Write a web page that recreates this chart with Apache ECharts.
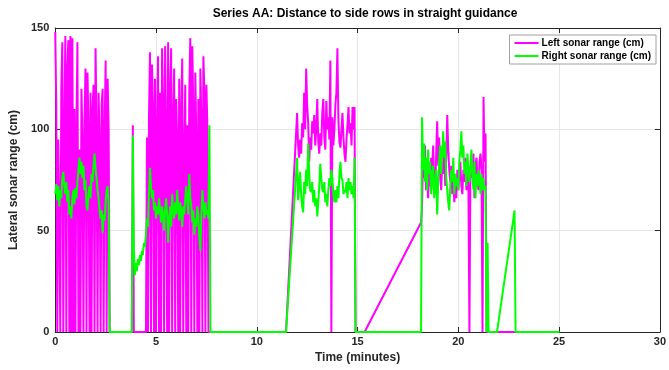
<!DOCTYPE html>
<html><head><meta charset="utf-8">
<script src="https://cdn.jsdelivr.net/npm/echarts@6/dist/echarts.min.js"></script>
<style>html,body{margin:0;padding:0;background:#fff}#c{width:669px;height:370px}</style>
</head><body><div id="c"></div>
<script>
// Time ticks (minutes) and range ticks (cm)
const xTicks = [0, 5, 10, 15, 20, 25, 30];
const yTicks = [0, 50, 100, 150];
const seriesNames = ['Left sonar range (cm)', 'Right sonar range (cm)'];

// Sampling step of the readings (minutes)
const step = 0.05;

// Segment A: t = 0.00 .. 2.65
const leftA = [148,112,0,95,60,0,120,143,0,100,146,0,130,144,0,146,0,145,0,110,0,100,143,0,90,0,120,95,0,105,130,0,128,100,0,118,0,110,122,0,140,100,0,118,95,0,112,120,0,100,134,0,125,100];
const rightA = [68,73,65,72,62,70,66,76,79,72,68,74,64,70,58,62,56,66,70,63,71,66,74,80,86,78,84,76,82,70,75,62,60,68,72,66,78,74,82,88,80,76,70,66,60,56,60,49,58,55,64,70,72,62];

// Segment B: t = 3.85 .. 7.65
const leftB = [102,0,0,0,0,0,0,0,0,0,0,0,0,0,96,0,105,138,0,132,110,0,125,0,100,136,0,118,0,140,112,0,141,98,0,143,0,120,140,0,105,130,0,115,95,0,125,0,108,135,0,88,122,0,102,0,118,145,0,141,110,0,128,95,0,115,0,130,105,0,136,118,0,122,100,0,0];
const rightB = [97,40,28,34,30,36,33,38,35,40,38,44,42,48,56,52,68,81,72,66,70,60,64,56,62,58,66,60,54,62,58,50,60,66,58,44,56,62,52,68,60,56,64,58,70,62,55,64,60,52,62,58,66,72,64,58,78,66,62,54,60,48,56,52,62,58,46,40,58,70,62,56,64,58,60,56,102];

// Segment C: t = 12.00 .. 14.85
const leftC = [108,92,86,95,88,103,96,118,100,130,112,103,84,96,90,104,98,107,92,100,115,94,88,98,92,108,115,96,90,114,100,106,95,134,0,106,92,100,112,118,140,104,94,91,100,108,96,88,84,95,102,111,98,103,92,111,100,111];
const rightC = [86,65,72,79,68,62,59,74,68,80,72,93,78,70,69,74,64,70,62,66,57,64,72,83,76,70,69,74,64,68,62,70,76,72,80,76,68,64,70,64,72,66,78,84,76,75,68,70,69,74,66,76,70,74,68,72,66,86];

// Segment D: t = 18.20 .. 21.40
const leftD = [62,88,76,92,70,84,66,78,72,86,80,92,74,68,88,104,82,96,76,70,84,78,90,72,86,107,90,80,74,82,68,76,64,72,66,80,70,76,84,72,68,80,74,86,70,78,72,0,80,84,76,88,66,82,86,76,70,84,88,80,0,116,84,98,0];
const rightD = [106,80,93,74,86,70,90,78,84,68,76,82,66,72,80,58,74,84,92,78,88,99,86,94,76,70,64,60,72,80,74,86,68,78,72,76,70,84,90,99,86,92,78,84,72,88,80,74,82,90,76,70,84,66,78,72,80,74,68,78,70,76,70,72,0];

// Points between segments [time, cm]
const leftGap1 = [[2.70,0],[3.80,0]];
const leftGap2 = [[7.70,0],[11.45,0]];
const leftGap3 = [[14.90,0],[15.35,0],[18.15,54]];
const leftTail = [[21.45,0],[22.80,0]];
const rightGap1 = [[2.70,0],[3.80,0]];
const rightGap2 = [[7.70,0],[11.45,0]];
const rightGap3 = [[14.90,0],[18.15,0]];
const rightTail = [[21.45,44],[21.50,0],[21.92,0],[22.79,60],[22.84,0],[25.02,0]];

function pts(t0, vals) {
  return vals.map((v, i) => [+(t0 + i * step).toFixed(3), v]);
}
const leftData = [].concat(pts(0, leftA), leftGap1, pts(3.85, leftB), leftGap2, pts(12.0, leftC), leftGap3, pts(18.2, leftD), leftTail);
const rightData = [].concat(pts(0, rightA), rightGap1, pts(3.85, rightB), rightGap2, pts(12.0, rightC), rightGap3, pts(18.2, rightD), rightTail);

const chart = echarts.init(document.getElementById('c'), null, {renderer: 'canvas'});
const FONT = 'Liberation Sans';
const axisCol = '#262626';
chart.setOption({
  animation: false,
  backgroundColor: '#fff',
  title: {
    text: 'Series AA: Distance to side rows in straight guidance',
    left: 360, top: 3, textAlign: 'center',
    textStyle: {fontFamily: FONT, fontSize: 12, fontWeight: 'bold', color: '#000'}
  },
  legend: {
    data: seriesNames,
    orient: 'vertical',
    right: 13, top: 35,
    padding: [3, 5, 3, 5],
    itemGap: 3,
    itemWidth: 24, itemHeight: 2,
    icon: 'rect',
    borderColor: '#a0a0a0', borderWidth: 1,
    backgroundColor: '#fff',
    textStyle: {fontFamily: FONT, fontSize: 10, fontWeight: 'bold', color: '#000', lineHeight: 10, padding: [0,0,0,-2]}
  },
  grid: {left: 55, right: 5, top: 28, bottom: 38, containLabel: false},
  xAxis: [{
    type: 'value', min: xTicks[0], max: xTicks[xTicks.length-1], interval: 5,
    name: 'Time (minutes)', nameLocation: 'middle', nameGap: 19,
    nameTextStyle: {fontFamily: FONT, fontSize: 12, fontWeight: 'bold', color: axisCol},
    axisLine: {show: true, lineStyle: {color: axisCol, width: 1}},
    axisTick: {show: true, inside: true, length: 5, lineStyle: {color: axisCol}},
    axisLabel: {fontFamily: FONT, fontSize: 11, fontWeight: 'bold', color: axisCol, margin: 4},
    splitLine: {show: true, lineStyle: {color: '#e6e6e6', width: 1}}
  }, {
    type: 'value', position: 'top', min: 0, max: 30, interval: 5,
    axisLine: {show: true, onZero: false, lineStyle: {color: axisCol, width: 1}},
    axisTick: {show: true, inside: true, length: 5, lineStyle: {color: axisCol}},
    axisLabel: {show: false}, splitLine: {show: false}
  }],
  yAxis: [{
    type: 'value', min: yTicks[0], max: yTicks[yTicks.length-1], interval: 50,
    name: 'Lateral sonar range (cm)', nameLocation: 'middle', nameGap: 28,
    nameTextStyle: {fontFamily: FONT, fontSize: 12, fontWeight: 'bold', color: axisCol},
    axisLine: {show: true, lineStyle: {color: axisCol, width: 1}},
    axisTick: {show: true, inside: true, length: 5, lineStyle: {color: axisCol}},
    axisLabel: {fontFamily: FONT, fontSize: 11, fontWeight: 'bold', color: axisCol, margin: 6},
    splitLine: {show: true, lineStyle: {color: '#e6e6e6', width: 1}}
  }, {
    type: 'value', position: 'right', min: 0, max: 150, interval: 50,
    axisLine: {show: true, onZero: false, lineStyle: {color: axisCol, width: 1}},
    axisTick: {show: true, inside: true, length: 5, lineStyle: {color: axisCol}},
    axisLabel: {show: false}, splitLine: {show: false}
  }],
  series: [{
    name: seriesNames[0], type: 'line', data: leftData, xAxisIndex: 0, yAxisIndex: 0,
    showSymbol: false, symbol: 'none', color: '#ff00ff',
    lineStyle: {color: '#ff00ff', width: 2}, z: 2
  }, {
    name: seriesNames[1], type: 'line', data: rightData, xAxisIndex: 0, yAxisIndex: 0,
    showSymbol: false, symbol: 'none', color: '#00ff00',
    lineStyle: {color: '#00ff00', width: 2}, z: 3
  }]
});
</script></body></html>
